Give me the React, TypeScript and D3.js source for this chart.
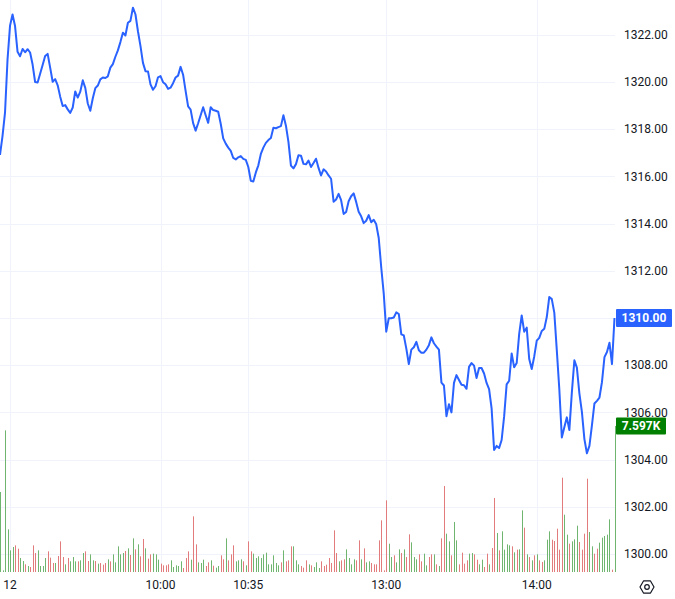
import React, { useEffect, useRef } from "react";
import * as d3 from "d3";

const W = 675;
const H = 599;

// one value per 1-minute bar
const prices = [
  1316.91,
  1317.71, 1318.70, 1320.95, 1322.39, 1322.86, 1322.37, 1321.28, 1321.09, 1321.40, 1321.26,
  1321.39, 1321.25, 1320.74, 1320.00, 1319.98, 1320.35, 1320.72, 1321.10, 1321.19, 1320.61,
  1320.01, 1320.12, 1319.86, 1319.38, 1318.98, 1319.02, 1318.84, 1318.69, 1318.92, 1319.60,
  1319.34, 1319.59, 1320.07, 1319.75, 1319.09, 1318.78, 1319.31, 1319.74, 1319.85, 1320.11,
  1320.19, 1320.17, 1320.24, 1320.61, 1320.76, 1321.07, 1321.34, 1321.69, 1322.09, 1321.97,
  1322.51, 1322.59, 1323.15, 1322.87, 1322.15, 1321.53, 1320.81, 1320.46, 1320.45, 1319.90,
  1319.67, 1319.82, 1320.20, 1320.25, 1319.99, 1319.90, 1319.71, 1319.76, 1319.95, 1320.19,
  1320.27, 1320.64, 1320.31, 1319.62, 1318.97, 1318.83, 1318.26, 1317.94, 1318.25, 1318.59,
  1318.93, 1318.59, 1318.27, 1318.93, 1318.81, 1318.78, 1318.74, 1318.23, 1317.61, 1317.39,
  1317.22, 1317.08, 1316.78, 1316.72, 1316.81, 1316.86, 1316.74, 1316.70, 1316.40, 1315.81,
  1315.78, 1316.17, 1316.47, 1316.95, 1317.22, 1317.42, 1317.54, 1317.63, 1318.06, 1318.04,
  1318.09, 1318.13, 1318.59, 1318.15, 1317.46, 1316.46, 1316.34, 1316.52, 1316.90, 1316.88,
  1316.53, 1316.51, 1316.67, 1316.40, 1316.57, 1316.75, 1316.36, 1316.04, 1316.30, 1316.21,
  1316.04, 1315.90, 1314.93, 1315.02, 1315.26, 1314.99, 1314.41, 1314.49, 1314.95, 1315.16,
  1315.28, 1314.92, 1314.50, 1314.31, 1314.02, 1314.12, 1314.36, 1314.06, 1314.16, 1313.97,
  1313.39, 1312.14, 1311.03, 1309.42, 1309.99, 1309.99, 1310.02, 1310.24, 1310.17, 1309.31,
  1309.26, 1308.70, 1308.05, 1308.66, 1308.76, 1308.99, 1308.63, 1308.53, 1308.53, 1308.66,
  1308.85, 1309.18, 1308.93, 1308.79, 1308.66, 1307.26, 1307.14, 1305.84, 1306.35, 1306.00,
  1307.25, 1307.58, 1307.37, 1307.17, 1307.15, 1307.00, 1307.93, 1308.09, 1307.98, 1307.46,
  1307.88, 1307.88, 1307.65, 1307.25, 1306.99, 1306.17, 1304.41, 1304.58, 1304.49, 1304.83,
  1305.83, 1307.19, 1307.34, 1308.50, 1307.91, 1308.09, 1309.33, 1310.11, 1309.42, 1309.59,
  1308.26, 1307.84, 1308.37, 1309.04, 1309.16, 1309.45, 1309.54, 1310.04, 1310.89, 1310.80,
  1310.23, 1308.63, 1306.98, 1304.94, 1305.37, 1305.79, 1305.25, 1306.85, 1308.21, 1307.90,
  1306.81, 1306.02, 1304.87, 1304.27, 1304.58, 1305.45, 1306.38, 1306.49, 1306.63, 1307.28,
  1308.34, 1308.56, 1308.95, 1308.05, 1310.00,
];

const volumes = [
  4162, 87, 7370, 2220, 1127, 1300, 1387, 1214, 728, 572,
  399, 312, 260, 1387, 988, 1127, 312, 312, 728, 1075,
  746, 468, 468, 832, 1595, 780, 399, 728, 555, 780,
  555, 555, 607, 988, 1075, 572, 919, 607, 572, 434,
  468, 381, 468, 659, 555, 919, 503, 1335, 919, 988,
  1092, 1231, 884, 1751, 1179, 1439, 815, 1717, 1231, 694,
  919, 954, 919, 642, 434, 347, 347, 399, 607, 260,
  347, 312, 555, 208, 728, 1075, 642, 2896, 1439, 503,
  468, 642, 312, 503, 607, 329, 225, 312, 867, 659,
  1751, 607, 919, 1387, 555, 607, 659, 555, 347, 1595,
  1075, 954, 728, 815, 728, 919, 1006, 399, 399, 867,
  468, 347, 503, 1127, 555, 607, 1335, 1335, 607, 399,
  312, 225, 607, 399, 347, 260, 503, 208, 555, 312,
  381, 728, 468, 2168, 988, 555, 607, 659, 1179, 728,
  399, 659, 607, 1647, 659, 1231, 503, 555, 468, 399,
  399, 1647, 2688, 87, 3728, 1474, 780, 867, 503, 1179,
  988, 1179, 780, 1959, 1543, 780, 659, 919, 555, 954,
  347, 780, 919, 919, 399, 312, 1751, 4474, 1994, 1595,
  867, 2601, 1647, 399, 1006, 434, 607, 954, 988, 919,
  642, 399, 642, 260, 954, 399, 1248, 3849, 2029, 1127,
  2115, 1162, 1439, 1387, 1335, 1023, 1162, 1179, 3208, 2306,
  919, 780, 607, 867, 919, 607, 520, 607, 1682, 2115,
  1682, 1613, 2254, 1162, 4907, 2982, 1942, 1474, 1595, 1699,
  2410, 1561, 1162, 1994, 4855, 2081, 1335, 954, 1214, 1526,
  1786, 1873, 1942, 2740, 121, 7597,
];

// g = up bar, r = down bar
const volumeDirections = (
  "ggggggrrgg" + "rgrrrggggr" + "rrgrrrgrgg" + "grggrrggrg" + "rrrgrggggg" +
  "rgrgrgrrgr" + "rgggrrrrgg" + "gggrrrgrrg" + "ggrrgrggrr" + "grrrgggrgr" +
  "rggggggggg" + "ggrgrrrggg" + "rrrgrgggrr" + "rrrrrgrrgg" + "ggrrgrggrr" +
  "rrrrrggrgg" + "rgrrgggrrg" + "grrgrgrrgg" + "rggrrrrggr" + "rggrrgrrgr" +
  "ggggrgrggr" + "grgrgrrggg" + "rrrrrggrgg" + "grrrrggrrg" + "ggggrg"
).split("");

const yTicks = [1300, 1302, 1304, 1306, 1308, 1310, 1312, 1314, 1316, 1318, 1320, 1322];
const xTickIndex = [4, 64, 99, 154, 214];
const xTickLabels = ["12", "10:00", "10:35", "13:00", "14:00"];
const lastPriceLabel = "1310.00";
const lastVolumeLabel = "7.597K";
const lastVolume = 7597;

export default function App() {
  const ref = useRef<SVGSVGElement>(null);

  useEffect(() => {
    const svg = d3.select(ref.current);
    svg.selectAll("*").remove();

    const plotRight = 615;
    const plotBottom = 572;
    const font = "Roboto, 'Open Sans', sans-serif";
    const textColor = "#131722";
    const gridColor = "#f0f3fa";

    const x = d3.scaleLinear().domain([0, prices.length - 1]).range([0, 614.5]);
    const y = d3.scaleLinear().domain([1300, 1322]).range([554, 34.8]);
    const v = d3.scaleLinear().domain([0, lastVolume]).range([plotBottom, 426]);

    svg.append("rect").attr("width", W).attr("height", H).attr("fill", "#ffffff");

    const defs = svg.append("defs");
    defs.append("clipPath").attr("id", "plotclip")
      .append("rect").attr("x", 0).attr("y", 0).attr("width", plotRight + 1).attr("height", plotBottom);

    // grid
    const grid = svg.append("g");
    grid.selectAll("line.h").data(yTicks).join("line")
      .attr("x1", 0).attr("x2", plotRight)
      .attr("y1", (d) => Math.round(y(d)) + 0.5).attr("y2", (d) => Math.round(y(d)) + 0.5)
      .attr("stroke", gridColor).attr("stroke-width", 1);
    grid.selectAll("line.v").data(xTickIndex).join("line")
      .attr("x1", (d) => Math.round(x(d)) + 0.5).attr("x2", (d) => Math.round(x(d)) + 0.5)
      .attr("y1", 0).attr("y2", plotBottom)
      .attr("stroke", gridColor).attr("stroke-width", 1);

    const plot = svg.append("g").attr("clip-path", "url(#plotclip)");

    // volume bars
    plot.selectAll("rect.vol").data(volumes).join("rect")
      .attr("x", (_d, i) => Math.round(x(i)))
      .attr("y", (d) => v(d))
      .attr("width", 1)
      .attr("height", (d) => plotBottom - v(d))
      .attr("fill", (_d, i) => (volumeDirections[i] === "g" ? "#6fb56f" : "#e27b7b"));

    // price line
    const line = d3.line<number>()
      .x((_d, i) => x(i))
      .y((d) => y(d));
    plot.append("path").datum(prices)
      .attr("d", line)
      .attr("fill", "none")
      .attr("stroke", "#2962ff")
      .attr("stroke-width", 2)
      .attr("stroke-linejoin", "round");

    const lastPrice = prices[prices.length - 1];

    // right axis labels (the one under the last-price badge is hidden by it)
    svg.append("g").selectAll("text").data(yTicks.filter((t) => Math.abs(y(t) - y(lastPrice)) > 12)).join("text")
      .attr("x", 624).attr("y", (d) => y(d))
      .attr("dy", "0.35em")
      .attr("font-family", font).attr("font-size", 12)
      .attr("fill", textColor)
      .text((d) => d.toFixed(2));

    // bottom axis labels
    svg.append("g").selectAll("text").data(xTickIndex).join("text")
      .attr("x", (d) => x(d)).attr("y", 585)
      .attr("dy", "0.35em")
      .attr("text-anchor", "middle")
      .attr("font-family", font).attr("font-size", 12)
      .attr("fill", textColor)
      .text((_d, i) => xTickLabels[i]);

    // last price badge
    const py = y(lastPrice);
    svg.append("rect").attr("x", 616).attr("y", py - 9).attr("width", 56).attr("height", 18)
      .attr("rx", 1).attr("fill", "#2962ff");
    svg.append("text").attr("x", 644).attr("y", py).attr("dy", "0.35em")
      .attr("text-anchor", "middle")
      .attr("font-family", font).attr("font-size", 12).attr("font-weight", 700)
      .attr("fill", "#ffffff").text(lastPriceLabel);

    // last volume badge
    const vy = v(lastVolume);
    svg.append("rect").attr("x", 616).attr("y", vy - 8.5).attr("width", 50).attr("height", 17)
      .attr("rx", 1).attr("fill", "#007f00");
    svg.append("text").attr("x", 641).attr("y", vy).attr("dy", "0.35em")
      .attr("text-anchor", "middle")
      .attr("font-family", font).attr("font-size", 12).attr("font-weight", 700)
      .attr("fill", "#ffffff").text(lastVolumeLabel);

    // settings icon
    const cx = 647, cy = 587, r = 7;
    const hex = d3.range(6).map((k) => {
      const a = (Math.PI / 3) * k;
      return [cx + r * Math.cos(a), cy + r * Math.sin(a)] as [number, number];
    });
    svg.append("polygon")
      .attr("points", hex.map((p) => p.join(",")).join(" "))
      .attr("fill", "none").attr("stroke", textColor).attr("stroke-width", 1.2)
      .attr("stroke-linejoin", "round");
    svg.append("circle").attr("cx", cx).attr("cy", cy).attr("r", 2.3)
      .attr("fill", "none").attr("stroke", textColor).attr("stroke-width", 1.2);
  }, []);

  return (
    <div style={{ position: "absolute", left: 0, top: 0 }}>
      <svg ref={ref} width={W} height={H} style={{ display: "block" }} />
    </div>
  );
}
